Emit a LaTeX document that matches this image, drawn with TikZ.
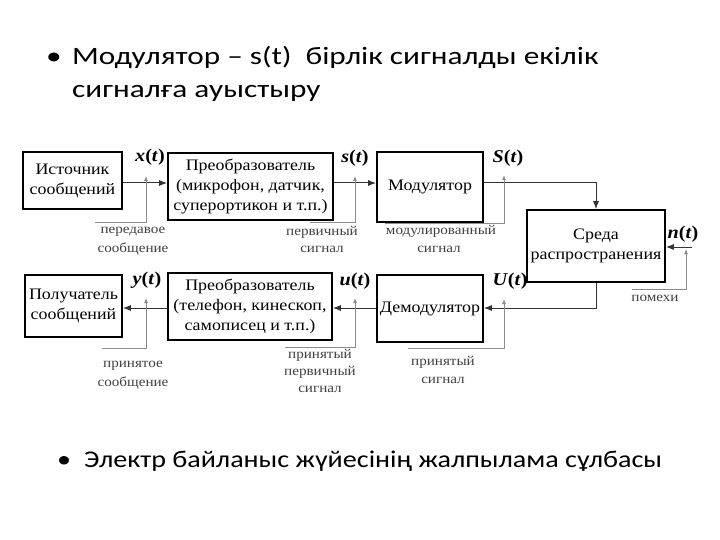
\documentclass[tikz,border=0pt]{standalone}
\usepackage{fontspec}
\setmainfont{Carlito}
\newfontfamily\ttlA[FakeStretch=1.25]{Carlito}
\newfontfamily\ttlB[FakeStretch=1.17]{Carlito}
\newfontfamily\dg[FakeStretch=1.12]{Liberation Serif}
\usetikzlibrary{arrows.meta}
\newcommand\sigl[1]{\textit{#1}\textup{(}\textit{t}\textup{)}}
\tikzset{
 blk/.style={draw=black, line width=1.6pt, align=center, inner sep=0pt, font=\dg\fontsize{16}{20}\selectfont},
 sig/.style={draw=black!80, line width=1pt, -{Latex[length=8pt,width=6pt]}},
 ann/.style={draw=black!45, line width=0.8pt, -{Latex[length=5pt,width=4pt]}},
 lbl/.style={font=\dg\bfseries\fontsize{18}{18}\selectfont, inner sep=0pt},
 note/.style={font=\dg\fontsize{13.5}{17}\selectfont, text=black!75, inner sep=0pt},
 ttl/.style={font=\ttlA\fontsize{25}{25}\selectfont, anchor=base west, inner sep=0pt},
 ttlb/.style={font=\ttlB\fontsize{24}{24}\selectfont, anchor=base west, inner sep=0pt}
}
\begin{document}
\begin{tikzpicture}[x=1pt,y=-1pt]
\useasboundingbox (0,0) rectangle (720,540);
% title
\node[ttl] (b1) at (46,65) {•};
\node[ttl] (t1) at (72,65) {Модулятор – s(t)\ \ бірлік сигналды екілік};
\node[ttl] (t2) at (72,98) {сигналға ауыстыру};
\node[ttlb] (b2) at (57,467) {•};
\node[ttlb] (t3) at (84,467) {Электр байланыс жүйесінің жалпылама сұлбасы};
% boxes
\node[blk, minimum width=99pt, minimum height=57pt] (src) at (72.5,180.5) {Источник\\сообщений};
\node[blk, minimum width=165pt, minimum height=67pt] (pre1) at (250.5,186.5) {Преобразователь\\(микрофон, датчик,\\суперортикон и т.п.)};
\node[blk, minimum width=106pt, minimum height=70pt] (mod) at (430,187) {Модулятор};
\node[blk, minimum width=138pt, minimum height=72pt] (env) at (596,246) {Среда\\распространения};
\node[blk, minimum width=106pt, minimum height=67pt] (dem) at (430,308.5) {Демодулятор};
\node[blk, minimum width=164pt, minimum height=67pt] (pre2) at (250,306.5) {Преобразователь\\(телефон, кинескоп,\\самописец и т.п.)};
\node[blk, minimum width=97pt, minimum height=62pt] (dst) at (73.5,306) {Получатель\\сообщений};
% rows
\coordinate (r1) at (0,183);
\coordinate (r2) at (0,308);
\draw[sig] (src.east |- r1) -- (pre1.west |- r1);
\draw[sig] (pre1.east |- r1) -- (mod.west |- r1);
\draw[sig] (mod.east |- r1) -| (env.north);
\draw[sig] (env.south) |- (dem.east |- r2);
\draw[sig] (dem.west |- r2) -- (pre2.east |- r2);
\draw[sig] (pre2.west |- r2) -- (dst.east |- r2);
\coordinate (nin) at (692,247);
\draw[sig] (nin) -- (env.east |- nin);
% signal labels
\node[lbl] (lx) at (150,157) {\sigl{x}};
\node[lbl] (ls) at (355,158) {\sigl{s}};
\node[lbl] (lS) at (508,158) {\sigl{S}};
\node[lbl] (ln) at (683,234) {\sigl{n}};
\node[lbl] (ly) at (147,280) {\sigl{y}};
\node[lbl] (lu) at (355,281) {\sigl{u}};
\node[lbl] (lU) at (510,281) {\sigl{U}};
% annotation lines
\coordinate (a1t) at (146,176); \coordinate (a1e) at (95,222);
\draw[ann] (a1e) -| (a1t);
\coordinate (a2t) at (355,176); \coordinate (a2e) at (310,222);
\draw[ann] (a2e) -| (a2t);
\coordinate (a3t) at (504,175); \coordinate (a3e) at (385,223);
\draw[ann] (a3e) -| (a3t);
\coordinate (a4t) at (686,249); \coordinate (a4e) at (632,289);
\draw[ann] (a4e) -| (a4t);
\coordinate (a5t) at (146,298); \coordinate (a5e) at (102,348);
\draw[ann] (a5e) -| (a5t);
\coordinate (a6t) at (355,298); \coordinate (a6e) at (285,347);
\draw[ann] (a6e) -| (a6t);
\coordinate (a7t) at (504,299); \coordinate (a7e) at (408,348);
\draw[ann] (a7e) -| (a7t);
% notes
\node[note] (n1a) at (133,232) {передавое};
\node[note] (n1b) at (133,249) {сообщение};
\node[note] (n2a) at (322,232) {первичный};
\node[note] (n2b) at (322,249) {сигнал};
\node[note] (n3a) at (441,231) {модулированный};
\node[note] (n3b) at (439,249) {сигнал};
\node[note] (n4) at (655,298) {помехи};
\node[note] (n5a) at (133,366) {принятое};
\node[note] (n5b) at (133,383) {сообщение};
\node[note] (n6a) at (320,355) {принятый};
\node[note] (n6b) at (320,372) {первичный};
\node[note] (n6c) at (320,389) {сигнал};
\node[note] (n7a) at (443,362) {принятый};
\node[note] (n7b) at (443,380) {сигнал};
\end{tikzpicture}
\end{document}
